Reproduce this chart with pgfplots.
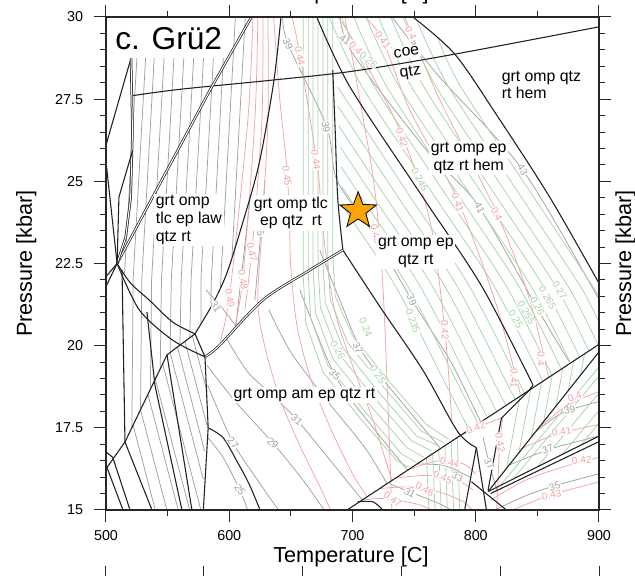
\documentclass[border=0pt]{standalone}
\usepackage{fontspec}
\setmainfont{Liberation Sans}
\usepackage{pgfplots}
\pgfplotsset{compat=1.18}

\definecolor{isogray}{HTML}{A0A0A0}
\definecolor{isored}{HTML}{F3A3A3}
\definecolor{isogreen}{HTML}{A6D4A6}
\definecolor{bnd}{HTML}{222222}
\definecolor{staror}{HTML}{F9A602}

% filled five-point star for the sample point
\pgfdeclareplotmark{fstar}{%
  \pgfpathmoveto{\pgfpointpolar{90}{\pgfplotmarksize}}%
  \pgfpathlineto{\pgfpointpolar{126}{0.42\pgfplotmarksize}}%
  \pgfpathlineto{\pgfpointpolar{162}{\pgfplotmarksize}}%
  \pgfpathlineto{\pgfpointpolar{198}{0.42\pgfplotmarksize}}%
  \pgfpathlineto{\pgfpointpolar{234}{\pgfplotmarksize}}%
  \pgfpathlineto{\pgfpointpolar{270}{0.42\pgfplotmarksize}}%
  \pgfpathlineto{\pgfpointpolar{306}{\pgfplotmarksize}}%
  \pgfpathlineto{\pgfpointpolar{342}{0.42\pgfplotmarksize}}%
  \pgfpathlineto{\pgfpointpolar{18}{\pgfplotmarksize}}%
  \pgfpathlineto{\pgfpointpolar{54}{0.42\pgfplotmarksize}}%
  \pgfpathclose
  \pgfusepathqfillstroke
}

\tikzset{
  bl/.style={color=bnd, line width=0.65pt},
  dbl/.style={color=bnd, line width=0.45pt, double=white, double distance=0.6pt},
  gr/.style={color=isogray, line width=0.45pt},
  rd/.style={color=isored, line width=0.45pt},
  gn/.style={color=isogreen, line width=0.45pt},
  ilab/.style={font=\fontsize{6}{6}\selectfont, fill=white, inner sep=0.4pt},
  reg/.style={font=\fontsize{9.5}{10.6}\selectfont, fill=white, inner sep=1pt, align=center},
}
\newcommand{\ilab}[5]{\node[ilab, text=#1, rotate=#2] at (axis cs:#3,#4) {#5};}

\begin{document}
\begin{tikzpicture}
\useasboundingbox (-63.6pt,-39.6pt) rectangle (317.4pt,306pt);
\begin{axis}[
    name=ax, at={(0,0)}, anchor=south west,
    scale only axis, width=295.8pt, height=295.8pt,
    xmin=500, xmax=900, ymin=15, ymax=30,
    xtick={500,600,700,800,900}, minor x tick num=1,
    ytick={15,17.5,20,22.5,25,27.5,30}, minor y tick num=4,
    tick pos=both, xticklabel pos=lower, yticklabel pos=left,
    tick align=outside,
    major tick length=7.2pt, minor tick length=3.6pt,
    tick style={black!85, line width=0.6pt},
    axis line style={black!85, line width=0.8pt},
    /pgf/number format/assume math mode=true,
    ticklabel style={font=\fontsize{8.6}{10}\selectfont},
    yticklabel style={xshift=-3pt},
    xticklabel style={yshift=-1.6pt},
    axis on top,
]

% ---------------- gray isopleths ----------------
% hatch in the law field
\addplot[gr] coordinates {(527,30)(515,22.2)};
\addplot[gr] coordinates {(534,30)(522,22)(521,17.5)};
\addplot[gr] coordinates {(541,30)(529,22)(528,18.04)};
\addplot[gr] coordinates {(549,30)(537,22)(536,18.67)};
\addplot[gr] coordinates {(557,30)(545,22)(544,19.29)};
\addplot[gr] coordinates {(565,30)(553,22)(552,19.82)};
\addplot[gr] coordinates {(573,30)(561,22)(560,20.02)};
\addplot[gr] coordinates {(581,30)(569,22)(568,20.25)};
\addplot[gr] coordinates {(589,30)(577,22)(577,20.66)};
\addplot[gr] coordinates {(597,30)(585.5,22)(585,21.2)};
\addplot[gr] coordinates {(605,30)(592.8,21.78)};
\addplot[gr] coordinates {(613,30)(602.2,22.69)};
% hatch in the lower left
\addplot[gr] coordinates {(522,17.58)(540,15)};
\addplot[gr] coordinates {(528,18.05)(549.4,15)};
\addplot[gr] coordinates {(534,18.52)(558.6,15)};
\addplot[gr] coordinates {(540,18.98)(567.9,15)};
\addplot[gr] coordinates {(546,19.45)(577,15)};
\addplot[gr] coordinates {(552,19.79)(579,15.93)};
\addplot[gr] coordinates {(558,19.96)(580,16.8)};
\addplot[gr] coordinates {(564,20.13)(582.5,17.5)};
\addplot[gr] coordinates {(570,20.3)(582,18.6)};
% tlc / law field
\addplot[gr, smooth] coordinates {(629,25.04)(624.9,23.13)(620.8,21.39)};
\addplot[gr, smooth] coordinates {(616.8,24.43)(608.6,21.7)(605.4,20.6)};
\addplot[gr, smooth] coordinates {(581,21.7)(593,21.2)(605.4,20.6)};
% am field arcs
\addplot[gr, smooth] coordinates {(582.7,17.2)(595,16.6)(608.6,15.61)(615,15)};
\addplot[gr, smooth] coordinates {(582.5,18.8)(603,17.05)(625,15.8)(640,15)};
\addplot[gr, smooth] coordinates {(582,19.4)(605,18.3)(635.4,17.04)(660,15.9)(677,15)};
\addplot[gr, smooth] coordinates {(598,20.2)(615,19.2)(635,18.5)(655,17.74)(680,16.6)(708,15.3)};
\addplot[gr, smooth] coordinates {(632,21.1)(650,19.8)(680,18.3)(710,16.9)(728,15.8)};
\addplot[gr, smooth] coordinates {(657.3,21.7)(685.7,19.1)(718.1,17.44)(745,16.2)};
\addplot[gr, smooth] coordinates {(673.5,22.9)(689.7,21.39)(708.4,19.78)(738.4,18.35)(770.8,16.9)};
% ep fields
\addplot[gr, smooth] coordinates {(643.5,30)(647.6,29.18)(679.2,26.65)(687.3,25.04)(716.5,23.43)(748.1,21.39)(778.9,19.57)(799.2,18.05)(805,17.6)};
\addplot[gr, smooth] coordinates {(690,30)(700,28.9)(760,25.95)(801.6,24.28)(854,20.87)(876,19.5)};
\addplot[gr, smooth] coordinates {(732,30)(770,28.2)(838,25.35)(899,21.48)(900,21.4)};
% lower right
\addplot[gr, smooth] coordinates {(752,16.4)(775,16.35)(795,16.0)};
\addplot[gr, smooth] coordinates {(730,15.8)(750,15.5)(770,15.2)(780,15.0)};
\addplot[gr, smooth] coordinates {(806,17.2)(811,16.4)(818,15.5)};
\addplot[gr, smooth] coordinates {(846,17.3)(870,17.95)(900,18.3)};
\addplot[gr, smooth] coordinates {(826,16.35)(860,16.85)(900,17.25)};
\addplot[gr, smooth] coordinates {(815,15.0)(845,15.5)(870,15.8)(900,16.1)};

% ---------------- red isopleths ----------------
\addplot[rd, smooth] coordinates {(651,30)(657,28.9)(671,25.6)(674,24.5)(678,22.9)(686,21.0)(700,19.4)(716,17.8)(732,15.9)};
\addplot[rd, smooth] coordinates {(636,30)(641,27.5)(647,25.3)(649,23.5)(650,22.35)(655,20.6)(666,19.0)(682,17.5)(700,16.1)(712,15.4)};
\addplot[rd, smooth] coordinates {(631.4,30)(631.4,26.87)(626.5,23.52)(623.2,21.3)(630,19.8)(642,18.3)(658,16.9)(675,15.6)(682,15)};
\addplot[rd, smooth] coordinates {(627.3,30)(626.5,26.87)(619.2,23.22)(612.7,21.09)};
\addplot[rd, smooth] coordinates {(623.2,30)(620.8,26.87)(611.1,22.09)(604.6,20.6)};
\addplot[rd, smooth] coordinates {(619.2,30)(615.1,26.87)(600.5,21.6)(592.4,20.1)};
\addplot[rd, smooth] coordinates {(693.8,30)(706,27.48)(718.1,24.74)(724.6,21.85)(728.6,18.35)(731.9,15)};
\addplot[rd, smooth] coordinates {(688,30)(700.3,29.3)(738.4,26.56)(762.7,23.82)(774.9,20.48)(780.5,17.74)};
\addplot[rd, smooth] coordinates {(710,30)(724.6,29.3)(746.5,27.17)(785.4,24.43)(815.4,21.39)(831.6,19.2)(836,18.55)};
\addplot[rd, smooth] coordinates {(742.4,30)(770.8,27.48)(817,24.04)(843.8,21.39)(859,19.05)};
% lower area
\addplot[rd, smooth] coordinates {(745,16.22)(770,16.5)(790,16.4)(800,16.1)};
\addplot[rd, smooth] coordinates {(735,15.97)(760,16.05)(785,15.9)(798,15.6)};
\addplot[rd, smooth] coordinates {(722,15.65)(745,15.7)(770,15.55)(790,15.25)(797,15.0)};
\addplot[rd, smooth] coordinates {(708,15.3)(725,15.35)(750,15.2)(765,15.0)};
\addplot[rd, smooth] coordinates {(785,17.2)(800,17.5)(821,17.8)};
\addplot[rd, smooth] coordinates {(822,17.8)(819.5,17.0)(817,15.0)};
\addplot[rd, smooth] coordinates {(851,17.5)(875,18.2)(900,18.6)};
\addplot[rd, smooth] coordinates {(836,16.85)(865,17.3)(900,17.6)};
\addplot[rd, smooth] coordinates {(812,15.3)(840,15.9)(870,16.3)(900,16.6)};
\addplot[rd, smooth] coordinates {(830,15.0)(860,15.45)(900,15.85)};

% ---------------- green isopleths ----------------
% tlc field, continuing into the am field
\addplot[gn] coordinates {(684,30)(684,22.72)(686,21.5)(700,20.3)(730,18.9)(760,17.6)(778,17.15)};
\addplot[gn] coordinates {(680,30)(680,22.63)(682,21.4)(696,20.1)(726,18.7)(756,17.4)(774,17.05)};
\addplot[gn] coordinates {(676,30)(676,22.54)(678,21.3)(692,19.95)(722,18.55)(752,17.25)(770,16.95)};
\addplot[gn] coordinates {(672,30)(672,22.45)(674,21.15)(688,19.8)(718,18.4)(748,17.1)(764,16.8)};
\addplot[gn] coordinates {(668,30)(668,22.36)(670,21.0)(684,19.6)(714,18.2)(744,16.9)(758,16.6)};
\addplot[gn] coordinates {(664,30)(664,22.27)(666,20.85)(680,19.4)(710,18.0)(740,16.7)(752,16.45)};
\addplot[gn] coordinates {(660,30)(660,22.17)(662,20.7)(676,19.2)(706,17.8)(736,16.5)(746,16.3)};
% grt omp ep qtz rt field
\addplot[gn, smooth] coordinates {(688,27.87)(747,24.52)(795,21.8)(839.5,18.55)};
\addplot[gn, smooth] coordinates {(688,27.3)(737,24.52)(785,21.8)(826,18.8)(832,18.36)};
\addplot[gn, smooth] coordinates {(689,26.68)(727,24.52)(775,21.8)(816,18.8)(824.5,18.18)};
\addplot[gn, smooth] coordinates {(690,26.05)(717,24.52)(765,21.8)(806,18.8)(817,17.99)};
\addplot[gn, smooth] coordinates {(691,25.43)(707,24.52)(755,21.8)(796,18.8)(809.6,17.81)};
\addplot[gn, smooth] coordinates {(691.5,24.83)(697,24.52)(745,21.8)(786,18.8)(802,17.63)};
\addplot[gn, smooth] coordinates {(692,24.24)(735,21.8)(776,18.8)(794.5,17.45)};
% hem field
\addplot[gn, smooth] coordinates {(681,30)(708,27.87)(767,24.52)(815,21.8)(854.4,18.92)};
\addplot[gn, smooth] coordinates {(691,30)(718,27.87)(777,24.52)(825,21.8)(861.9,19.1)};
\addplot[gn, smooth] coordinates {(701,30)(728,27.87)(787,24.52)(835,21.8)(869.4,19.29)};
\addplot[gn, smooth] coordinates {(711,30)(738,27.87)(797,24.52)(845,21.8)(876.9,19.47)};
\addplot[gn, smooth] coordinates {(721,30)(748,27.87)(807,24.52)(855,21.8)(884.3,19.65)};
\addplot[gn, smooth] coordinates {(731,30)(758,27.87)(817,24.52)(865,21.8)(891.8,19.84)};
\addplot[gn, smooth] coordinates {(741,30)(768,27.87)(827,24.52)(875,21.8)(899.3,20.02)};
\addplot[gn, smooth] coordinates {(752.3,29.89)(778,27.87)(837,24.52)(885,21.8)(900,20.7)};
\addplot[gn, smooth] coordinates {(769.6,29.32)(788,27.87)(847,24.52)(895,21.8)(900,21.43)};
% below the diagonal
\addplot[gn] coordinates {(760,16.59)(762,15)};
\addplot[gn] coordinates {(765,16.71)(767,15)};
\addplot[gn] coordinates {(770,16.83)(772,15)};
\addplot[gn] coordinates {(775,16.96)(777,15)};
\addplot[gn] coordinates {(780,17.08)(782,15)};
\addplot[gn] coordinates {(785,17.2)(787,15)};
% wedges on the right
\addplot[gn] coordinates {(825,16.27)(836,18.47)};
\addplot[gn] coordinates {(835,16.74)(844.7,18.70)};
\addplot[gn] coordinates {(845,17.21)(853.4,18.89)};
\addplot[gn] coordinates {(855,17.68)(862.1,19.11)};
\addplot[gn] coordinates {(865,18.16)(870.8,19.32)};
\addplot[gn] coordinates {(875,18.63)(879.5,19.54)};
\addplot[gn] coordinates {(885,19.1)(888.3,19.75)};
\addplot[gn] coordinates {(820,15.75)(900,19.35)};
\addplot[gn] coordinates {(830,15.93)(900,19.08)};
\addplot[gn] coordinates {(850,16.31)(900,18.56)};
\addplot[gn] coordinates {(870,16.68)(900,18.03)};
\addplot[gn] coordinates {(885,16.96)(900,17.64)};

% ---------------- phase boundaries ----------------
\addplot[bl, smooth] coordinates {(520.3,27.6)(560,27.8)(635,28.08)(700,28.35)(783,28.87)(900,29.7)};
\addplot[bl, smooth] coordinates {(749,30)(783,28.87)(818,26.96)(860,24.52)(900,21.9)};
\addplot[bl, smooth] coordinates {(671,30)(698,27.87)(757,24.52)(805,21.8)(846.5,18.8)};
\addplot[bl, smooth] coordinates {(684,28.38)(686,26.5)(688,24.5)(692.2,22.91)};
\addplot[bl, smooth] coordinates {(692.2,22.91)(722,21.2)(757,19.26)(785.4,17.38)(800.5,16.9)};
\addplot[dbl] coordinates {(618,30)(584,27.75)(509,22.5)};
\addplot[dbl, smooth] coordinates {(692.2,22.91)(665.4,22.30)(627.3,21.39)(592.4,20.02)(580.3,19.66)};
\addplot[bl, smooth] coordinates {(642,30)(636,28)(624,25.5)(609,23.5)(598,22.2)(587,21.3)(572.2,20.36)};
\addplot[bl, smooth] coordinates {(509,22.5)(520,21.9)(535,21.39)(554,20.72)(572.2,20.36)};
\addplot[bl, smooth] coordinates {(509,22.5)(527,21.09)(554,20.17)(580.3,19.66)};
\addplot[bl] coordinates {(572.2,20.36)(580.3,19.66)};
\addplot[bl] coordinates {(580.3,19.66)(582.9,17.5)(579,15)};
\addplot[bl, smooth] coordinates {(582.9,17.5)(595,17.2)(606,16.5)(616,15.8)(625,15.0)};
\addplot[bl] coordinates {(500,16.25)(515.4,17.07)(549.5,19.72)(572.2,20.36)};
\addplot[bl] coordinates {(513,22.3)(515.4,17.07)};
\addplot[bl] coordinates {(515.4,17.07)(537.3,15)};
\addplot[bl] coordinates {(533.2,21.03)(539.7,18.8)(561.6,15)};
\addplot[bl] coordinates {(549.5,19.72)(569.7,15)};
\addplot[bl] coordinates {(500,16.77)(505.5,16.6)(519.5,15)};
\addplot[bl] coordinates {(500,16.37)(513.8,15)};
\addplot[bl] coordinates {(500,26.1)(520.3,28.75)};
\addplot[dbl] coordinates {(520.3,28.75)(521.5,26.5)(520,24.5)(516,23.3)(509,22.5)};
\addplot[bl] coordinates {(521.6,25.94)(510.5,24.52)(509,22.5)};
\addplot[bl] coordinates {(500,25.6)(509,22.5)};
\addplot[bl] coordinates {(500,22.1)(509,22.5)};
\addplot[bl] coordinates {(500,21.8)(509,22.5)};
% lower right
\addplot[bl] coordinates {(695.6,15)(900,20.04)};
\addplot[bl] coordinates {(810,15.56)(900,19.81)};
\addplot[bl] coordinates {(810,15.56)(900,17.25)};
\addplot[bl] coordinates {(812,15.5)(900,17.08)};
\addplot[bl] coordinates {(846.5,18.8)(842.4,18.6)(820.8,17.79)(810,15.6)};
\addplot[bl] coordinates {(800.5,16.9)(791,15)};
\addplot[bl] coordinates {(800.5,16.9)(808.7,15)};
\addplot[bl] coordinates {(796.5,15.86)(824.9,15)};
\addplot[bl, smooth] coordinates {(704.3,15.25)(716.5,15.25)(724.6,15)};

% ---------------- isopleth labels ----------------
\ilab{isogray}{-65}{647.6}{29.18}{39}
\ilab{isored}{-78}{657.3}{28.81}{0.44}
\ilab{isored}{-82}{670.3}{25.65}{0.44}
\ilab{isogray}{-80}{678.4}{26.65}{39}
\ilab{isogray}{-35}{694}{29.3}{41}
\ilab{isored}{-45}{704.3}{29.0}{0.42}
\ilab{isogreen}{-40}{713}{28.7}{0.26}
\ilab{isored}{-55}{724.6}{29.3}{0.41}
\ilab{isored}{-65}{747.3}{29.51}{0.4}
\ilab{isored}{-72}{740}{26.32}{0.42}
\ilab{isogreen}{-62}{754.6}{25.04}{0.245}
\ilab{isored}{-82}{646.8}{25.16}{0.45}
\ilab{isogray}{-75}{624.9}{23.5}{35}
\ilab{isored}{-80}{618.4}{22.85}{0.47}
\ilab{isored}{-80}{611.1}{22.0}{0.48}
\ilab{isored}{-80}{600.5}{21.45}{0.49}
\ilab{isogray}{-60}{589.2}{21.18}{31}
\ilab{isored}{-75}{719}{23.4}{0.43}
\ilab{isored}{-72}{785.4}{24.35}{0.41}
\ilab{isogray}{-62}{803.2}{24.19}{41}
\ilab{isored}{-65}{817}{24.0}{0.4}
\ilab{isogray}{-60}{838.1}{25.35}{43}
\ilab{isogreen}{-60}{868.1}{21.7}{0.27}
\ilab{isogreen}{-60}{858.4}{21.45}{0.265}
\ilab{isogreen}{-60}{850}{21.2}{0.26}
\ilab{isogreen}{-60}{841}{21.0}{0.255}
\ilab{isogreen}{-60}{832.5}{20.8}{0.25}
\ilab{isogray}{-70}{748.1}{21.39}{39}
\ilab{isogreen}{-70}{749}{20.75}{0.235}
\ilab{isored}{-88}{774.9}{20.48}{0.42}
\ilab{isogray}{-65}{704.3}{19.93}{37}
\ilab{isogreen}{-68}{710.8}{20.55}{0.24}
\ilab{isogreen}{-60}{688.1}{19.87}{0.26}
\ilab{isogreen}{-55}{720.5}{19.11}{0.25}
\ilab{isogray}{-40}{685.7}{19.11}{35}
\ilab{isogray}{-42}{654.9}{17.74}{31}
\ilab{isogray}{-40}{635.4}{17.04}{29}
\ilab{isogray}{-50}{603}{17.04}{27}
\ilab{isogray}{-55}{608.6}{15.61}{25}
\ilab{isored}{20}{800}{17.5}{0.42}
\ilab{isored}{-15}{778.9}{16.45}{0.44}
\ilab{isored}{-25}{773.2}{16.0}{0.45}
\ilab{isogray}{-25}{785}{16.0}{33}
\ilab{isored}{-30}{758.6}{15.62}{0.46}
\ilab{isogray}{-30}{746.5}{15.52}{31}
\ilab{isored}{-35}{732.7}{15.32}{0.47}
\ilab{isored}{-80}{819.8}{17.05}{0.42}
\ilab{isogray}{-60}{811}{16.4}{37}
\ilab{isored}{-90}{831}{19.0}{0.41}
\ilab{isored}{-90}{853}{19.6}{0.4}
\ilab{isored}{20}{880.3}{18.44}{0.4}
\ilab{isogray}{15}{876.2}{18.04}{39}
\ilab{isored}{10}{869.7}{17.38}{0.41}
\ilab{isogray}{20}{858.4}{16.84}{37}
\ilab{isored}{5}{885.9}{16.52}{0.42}
\ilab{isogray}{15}{864}{15.72}{35}
\ilab{isored}{10}{861.6}{15.45}{0.43}

% ---------------- field labels ----------------
\node[reg, align=left, anchor=west] at (axis cs:819.5,27.93) {grt omp qtz\\rt hem};
\node[reg, rotate=8] at (axis cs:743.8,28.93) {coe};
\node[reg, rotate=8] at (axis cs:747,28.31) {qtz};
\node[reg] at (axis cs:794.3,25.71) {grt omp ep\\qtz rt hem};
\node[reg] at (axis cs:650,24.04) {grt omp tlc\\ep qtz\ \ rt};
\node[reg, align=left, anchor=west] at (axis cs:538.9,23.82) {grt omp\\tlc ep law\\qtz rt};
\node[reg] at (axis cs:751.4,22.85) {grt omp ep\\qtz rt};
\node[reg] at (axis cs:661,18.5) {grt omp am ep qtz rt};

% title
\fill[white] (axis cs:500.4,29.96) rectangle (axis cs:598,28.75);
\node[anchor=base west, inner sep=0, font=\fontsize{19}{19}\selectfont] at (axis cs:507.3,29.0) {c. Grü2};

% sample
\addplot[only marks, mark=fstar, mark size=11.5pt, mark options={fill=staror, draw=black, line width=0.5pt}] coordinates {(704.6,24.1)};
\end{axis}

% axis titles
\node[anchor=base, font=\fontsize{13}{13}\selectfont] at (147pt,-31.8pt) {Temperature [C]};
\node[anchor=base, font=\fontsize{13}{13}\selectfont] at (147pt,306.3pt) {Temperature [C]};
\node[rotate=90, anchor=base, font=\fontsize{13}{13}\selectfont] at (-44.4pt,147.9pt) {Pressure [kbar]};
\node[rotate=90, anchor=base, font=\fontsize{13}{13}\selectfont] at (315pt,147.9pt) {Pressure [kbar]};
% ticks of the panel below
\foreach \x in {0,58.8,118.2,177.6,237,295.8}
  \draw[black!85, line width=0.6pt] (\x pt,-33.6pt) -- (\x pt,-40pt);
\end{tikzpicture}
\end{document}
